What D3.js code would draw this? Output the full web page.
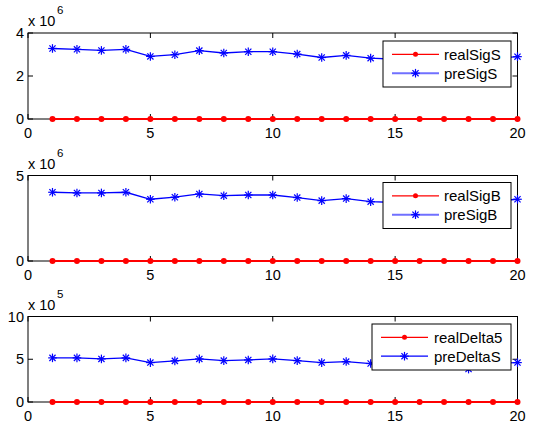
<!DOCTYPE html>
<html>
<head>
<meta charset="utf-8">
<script src="https://cdn.jsdelivr.net/npm/d3@7"></script>
<style>
  body { margin: 0; background: #fff; }
  svg text { font-family: "Liberation Sans", Arial, Helvetica, sans-serif; fill: #000; }
</style>
</head>
<body>
<div id="chart"></div>
<script>
// x positions shared by every panel
let xs = d3.range(1, 21);
let xTicks = [0, 5, 10, 15, 20];

// panel 1 (x 10^6)
let realSigS = [0, 0, 0, 0, 0, 0, 0, 0, 0, 0, 0, 0, 0, 0, 0, 0, 0, 0, 0, 0];
let preSigS = [3.28, 3.24, 3.19, 3.24, 2.91, 2.99, 3.18, 3.07, 3.13, 3.13, 3.02, 2.86, 2.96, 2.83, 2.78, 2.85, 2.80, 2.35, 2.82, 2.90];
// panel 2 (x 10^6)
let realSigB = [0, 0, 0, 0, 0, 0, 0, 0, 0, 0, 0, 0, 0, 0, 0, 0, 0, 0, 0, 0];
let preSigB = [4.02, 3.98, 3.98, 4.02, 3.61, 3.73, 3.92, 3.82, 3.86, 3.86, 3.71, 3.53, 3.65, 3.47, 3.42, 3.55, 3.45, 2.95, 3.50, 3.61];
// panel 3 (x 10^5)
let realDelta5 = [0, 0, 0, 0, 0, 0, 0, 0, 0, 0, 0, 0, 0, 0, 0, 0, 0, 0, 0, 0];
let preDeltaS = [5.16, 5.16, 5.04, 5.16, 4.61, 4.81, 5.04, 4.84, 4.92, 5.04, 4.84, 4.61, 4.73, 4.50, 4.45, 4.60, 4.50, 3.85, 4.55, 4.61];

let panels = [
  {top: 33, bottom: 119, ymax: 4, yTicks: [0, 2, 4], exp: "6",
   real: realSigS, pre: preSigS, names: ["realSigS", "preSigS"],
   legend: {x0: 383, x1: 511, y0: 41, y1: 87, lx0: 392, lx1: 439, tx: 444}, lightLegend: true},
  {top: 175.5, bottom: 261, ymax: 5, yTicks: [0, 5], exp: "6",
   real: realSigB, pre: preSigB, names: ["realSigB", "preSigB"],
   legend: {x0: 383, x1: 511, y0: 182.5, y1: 228.5, lx0: 392, lx1: 439, tx: 444}, lightLegend: true},
  {top: 316.5, bottom: 402, ymax: 10, yTicks: [0, 5, 10], exp: "5",
   real: realDelta5, pre: preDeltaS, names: ["realDelta5", "preDeltaS"],
   legend: {x0: 372, x1: 511, y0: 324, y1: 370, lx0: 381, lx1: 428, tx: 434}, lightLegend: false}
];

let svg = d3.select("#chart").append("svg")
    .attr("width", 536)
    .attr("height", 425);
svg.append("rect").attr("width", 536).attr("height", 425).attr("fill", "#fff");

let xScale = d3.scaleLinear().domain([0, 20]).range([28, 517.5]);

function star(g, x, y, color) {
  let r = 4.3;
  let s = g.append("g").attr("transform", "translate(" + x + "," + y + ")")
      .attr("stroke", color).attr("stroke-width", 1.2);
  s.append("line").attr("x1", -r).attr("x2", r).attr("y1", 0).attr("y2", 0);
  s.append("line").attr("x1", 0).attr("x2", 0).attr("y1", -r).attr("y2", r);
  s.append("line").attr("x1", -r * 0.72).attr("x2", r * 0.72).attr("y1", -r * 0.72).attr("y2", r * 0.72);
  s.append("line").attr("x1", -r * 0.72).attr("x2", r * 0.72).attr("y1", r * 0.72).attr("y2", -r * 0.72);
}

panels.forEach(function(p) {
  let yScale = d3.scaleLinear().domain([0, p.ymax]).range([p.bottom, p.top]);
  let g = svg.append("g");
  let line = d3.line().x((d, i) => xScale(xs[i])).y(d => yScale(d));

  // frame with inward ticks on all sides
  let x0 = xScale(0), x1 = xScale(20);
  g.append("rect")
    .attr("x", x0).attr("y", p.top)
    .attr("width", x1 - x0).attr("height", p.bottom - p.top)
    .attr("fill", "none").attr("stroke", "#000").attr("stroke-width", 1);

  let tl = 5;
  xTicks.forEach(function(t) {
    let x = xScale(t);
    g.append("line").attr("x1", x).attr("x2", x).attr("y1", p.bottom).attr("y2", p.bottom - tl).attr("stroke", "#000");
    g.append("line").attr("x1", x).attr("x2", x).attr("y1", p.top).attr("y2", p.top + tl).attr("stroke", "#000");
    g.append("text").attr("x", x).attr("y", p.bottom + 19)
      .attr("text-anchor", "middle").style("font-size", "14.5px").text(t);
  });
  p.yTicks.forEach(function(t) {
    let y = yScale(t);
    g.append("line").attr("x1", x0).attr("x2", x0 + tl).attr("y1", y).attr("y2", y).attr("stroke", "#000");
    g.append("line").attr("x1", x1).attr("x2", x1 - tl).attr("y1", y).attr("y2", y).attr("stroke", "#000");
    g.append("text").attr("x", 24).attr("y", y + 5)
      .attr("text-anchor", "end").style("font-size", "14.5px").text(t);
  });

  // data lines
  g.append("path").datum(p.pre)
    .attr("fill", "none").attr("stroke", "#0000ff").attr("stroke-width", 1.3)
    .attr("d", line);
  p.pre.forEach((v, i) => star(g, xScale(xs[i]), yScale(v), "#0000ff"));

  g.append("path").datum(p.real)
    .attr("fill", "none").attr("stroke", "#ff0000").attr("stroke-width", 2)
    .attr("d", line);
  g.selectAll("circle.dot").data(p.real).join("circle")
    .attr("cx", (d, i) => xScale(xs[i]))
    .attr("cy", d => yScale(d))
    .attr("r", 3)
    .attr("fill", "#ff0000");

  // exponent label
  g.append("text").attr("x", 28).attr("y", p.top - 7)
    .style("font-size", "14.5px").text("x 10");
  g.append("text").attr("x", 57).attr("y", p.top - 19)
    .style("font-size", "11.5px").text(p.exp);

  // legend
  let L = p.legend;
  g.append("rect")
    .attr("x", L.x0).attr("y", L.y0)
    .attr("width", L.x1 - L.x0).attr("height", L.y1 - L.y0)
    .attr("fill", "#fff").attr("stroke", "#000").attr("stroke-width", 1);
  let rowH = (L.y1 - L.y0);
  let ry = L.y0 + rowH * 0.29, by = L.y0 + rowH * 0.70;
  let mid = (L.lx0 + L.lx1) / 2;
  g.append("line").attr("x1", L.lx0).attr("x2", L.lx1).attr("y1", ry).attr("y2", ry)
    .attr("stroke", "#ff0000").attr("stroke-width", 1.3);
  g.append("circle").attr("cx", mid).attr("cy", ry).attr("r", 2.5).attr("fill", "#ff0000");
  g.append("line").attr("x1", L.lx0).attr("x2", L.lx1).attr("y1", by).attr("y2", by)
    .attr("stroke", p.lightLegend ? "#7070ff" : "#0000ff").attr("stroke-width", p.lightLegend ? 2 : 1.3);
  star(g, mid, by, "#0000ff");
  g.append("text").attr("x", L.tx).attr("y", ry + 5.5).style("font-size", "15px").text(p.names[0]);
  g.append("text").attr("x", L.tx).attr("y", by + 5.5).style("font-size", "15px").text(p.names[1]);
});
</script>
</body>
</html>
